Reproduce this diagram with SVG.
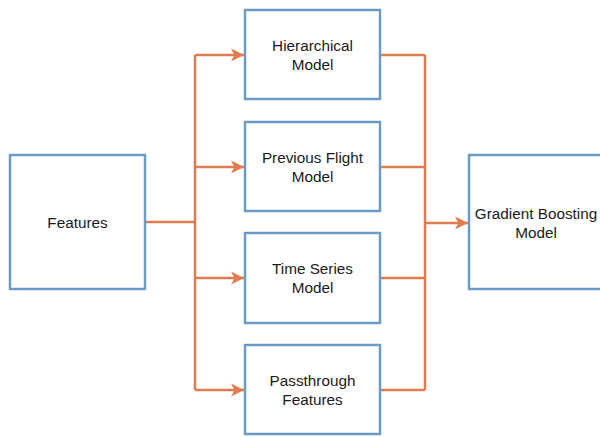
<svg xmlns="http://www.w3.org/2000/svg" width="600" height="437" viewBox="0 0 600 437">
<style>
.box{fill:#fff;stroke:#6c9bc8;stroke-width:2.5}
.lbl{font-family:"Liberation Sans",Arial,sans-serif;font-size:15.3px;fill:#1a1a1a;text-anchor:middle}
.conn{fill:none;stroke:#e07b4f;stroke-width:2.5}
</style>
<defs>
<marker id="arr" viewBox="0 0 14 14" refX="13" refY="7" markerWidth="14" markerHeight="14" markerUnits="userSpaceOnUse" orient="auto">
<path d="M0,0.5 L13,7 L0,13.5 L3.5,7 Z" fill="#e07b4f"/>
</marker>
</defs>
<rect width="600" height="437" fill="#fff"/>
<g id="connectors">
<path class="conn" d="M146,222 H195"/>
<path class="conn" d="M195,55 V390"/>
<path class="conn" d="M195,55 H244" marker-end="url(#arr)"/>
<path class="conn" d="M195,167 H244" marker-end="url(#arr)"/>
<path class="conn" d="M195,278 H244" marker-end="url(#arr)"/>
<path class="conn" d="M195,390 H244" marker-end="url(#arr)"/>
<path class="conn" d="M381,55 H425"/>
<path class="conn" d="M381,167 H425"/>
<path class="conn" d="M381,278 H425"/>
<path class="conn" d="M381,390 H425"/>
<path class="conn" d="M425,55 V390"/>
<path class="conn" d="M425,223 H468" marker-end="url(#arr)"/>
</g>
<g id="features">
<rect class="box" x="10" y="155" width="135" height="134"/>
<text class="lbl" x="77.5" y="227.5">Features</text>
</g>
<g id="hierarchical">
<rect class="box" x="245" y="10" width="135" height="89"/>
<text class="lbl" x="312.5" y="50.5">Hierarchical</text>
<text class="lbl" x="312.5" y="69.5">Model</text>
</g>
<g id="previous">
<rect class="box" x="245" y="122" width="135" height="89"/>
<text class="lbl" x="312.5" y="162.5">Previous Flight</text>
<text class="lbl" x="312.5" y="181.5">Model</text>
</g>
<g id="timeseries">
<rect class="box" x="245" y="233" width="135" height="90"/>
<text class="lbl" x="312.5" y="273.5">Time Series</text>
<text class="lbl" x="312.5" y="292.5">Model</text>
</g>
<g id="passthrough">
<rect class="box" x="245" y="345" width="135" height="89"/>
<text class="lbl" x="312.5" y="385.5">Passthrough</text>
<text class="lbl" x="312.5" y="404.5">Features</text>
</g>
<g id="gradient">
<rect class="box" x="469" y="155" width="135" height="134"/>
<text class="lbl" x="536" y="218.5">Gradient Boosting</text>
<text class="lbl" x="536" y="237.5">Model</text>
</g>
</svg>
